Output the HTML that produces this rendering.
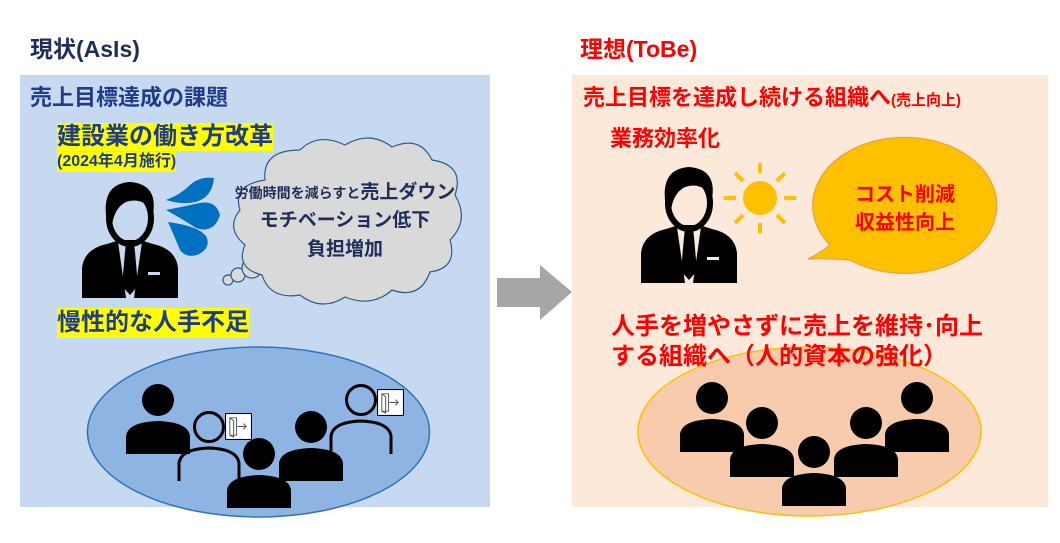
<!DOCTYPE html>
<html><head><meta charset="utf-8"><style>
body{margin:0;width:1060px;height:543px;background:#fff;overflow:hidden;position:relative;font-family:"Liberation Sans","Noto Sans CJK JP",sans-serif;font-weight:bold}
.t{position:absolute;white-space:nowrap;line-height:1}
.y{background:#ffff00}
</style></head><body>
<svg width="1060" height="543" style="position:absolute;left:0;top:0">
<defs>
<symbol id="man" viewBox="0 0 96 116">
<path d="M0,116 L0,86 Q2,67 25,62 L38,58 L58,58 L71,62 Q94,67 96,86 L96,116 Z" fill="#000"/>
<path d="M36,60 L60,60 L52,116 L44,116 Z" fill="currentColor"/>
<path d="M44,62 L52,62 L53,70 L56,104 L48,113 L40,104 L43,70 Z" fill="#000"/>
<rect x="66" y="90" width="12" height="3" fill="currentColor"/>
<ellipse cx="48" cy="36" rx="21" ry="26" fill="currentColor" stroke="#000" stroke-width="6"/>
<path d="M25,40 Q18,2 48,0 Q76,2 71,32 Q62,14 44,20 Q32,26 30,44 Z" fill="#000"/>
<path d="M40,58 L56,58 L54,64 L42,64Z" fill="#000"/>
</symbol>
<symbol id="ps" viewBox="0 0 66 70">
<circle cx="33" cy="16" r="16" fill="#000"/>
<path d="M1,70 L1,52 Q3,38 33,37 Q63,38 65,52 L65,70 Z" fill="#000"/>
</symbol>
<symbol id="po" viewBox="0 0 66 70">
<circle cx="33" cy="16" r="14.5" fill="none" stroke="#000" stroke-width="3"/>
<path d="M3,70 L3,52 Q5,38 33,37 Q61,38 63,52 L63,70" fill="none" stroke="#000" stroke-width="3"/>
</symbol>
<symbol id="door" viewBox="0 0 28 28">
<rect x="0.5" y="0.5" width="27" height="27" fill="#fff" stroke="#000" stroke-width="1.2"/>
<path d="M5,5 L12,5 L12,23 L5,23 Z M5,5 L9,8 L9,25 L5,23" fill="none" stroke="#555" stroke-width="1"/>
<path d="M13,14 L22,14 M19,11 L22,14 L19,17" fill="none" stroke="#555" stroke-width="1"/>
</symbol>
</defs>
<rect x="20" y="75" width="470" height="432" fill="#c6d9f1"/>
<rect x="572" y="75" width="476" height="432" fill="#fde9da"/>
<path d="M497,278 L540,278 L540,265 L572,292 L540,320 L540,307 L497,307 Z" fill="#a6a6a6"/>
<use href="#man" x="82" y="182" width="96" height="116" style="color:#c6d9f1"/>
<g fill="#0070c0">
<path d="M214,178 Q200,176 190,185 Q180,195 166,200 Q182,205 195,202 Q212,198 214,178Z"/>
<path d="M220,215 Q216,200 200,203 Q186,206 166,210 Q184,220 196,228 Q214,234 220,215Z"/>
<path d="M197,255 Q212,248 206,236 Q198,226 168,222 Q176,240 180,250 Q186,258 197,255Z"/>
</g>
<g fill="#d9d9d9" stroke="#2e5c8a" stroke-width="1.2">
<circle cx="228" cy="280" r="5"/>
<circle cx="238" cy="275" r="7"/>
<circle cx="252" cy="268" r="10"/>
<path d="M265,180 Q262,150 300,150 Q318,132 345,145 Q370,130 392,147 Q420,135 432,160 Q465,165 455,195 Q470,220 450,240 Q458,268 430,272 Q420,300 392,290 Q372,308 345,297 Q322,312 300,295 Q270,300 262,275 Q235,268 245,245 Q225,228 240,210 Q232,185 265,180Z"/>
</g>
<ellipse cx="258.5" cy="432" rx="171" ry="85" fill="#8eb4e3" stroke="#2e75b6" stroke-width="1.5"/>
<use href="#ps" x="125" y="384" width="66" height="70"/>
<use href="#po" x="176" y="411" width="66" height="70"/>
<use href="#door" x="225" y="413" width="27" height="27"/>
<use href="#ps" x="278" y="411" width="66" height="70"/>
<use href="#po" x="328" y="384" width="66" height="70"/>
<use href="#door" x="377" y="389" width="27" height="27"/>
<use href="#ps" x="226" y="438" width="66" height="70"/>
<use href="#man" x="641" y="167" width="96" height="116" style="color:#fde9da"/>
<g stroke="#ffc000" stroke-width="4">
<line x1="760" y1="163" x2="760" y2="173"/><line x1="760" y1="223" x2="760" y2="233"/>
<line x1="724" y1="198" x2="736" y2="198"/><line x1="784" y1="198" x2="796" y2="198"/>
<line x1="735" y1="173" x2="743" y2="181"/><line x1="777" y1="215" x2="785" y2="223"/>
<line x1="785" y1="173" x2="777" y2="181"/><line x1="743" y1="215" x2="735" y2="223"/>
</g>
<circle cx="760" cy="198" r="17" fill="#ffc000"/>
<path d="M830,245 A92,68 0 1 1 850,260 Q828,258 808,259 Q822,252 830,245Z" fill="#ffc000" stroke="#e6a23c" stroke-width="1.2"/>
<ellipse cx="809.5" cy="431.5" rx="171.5" ry="84.5" fill="#f8cbad" stroke="#ffc000" stroke-width="1.5"/>
<use href="#ps" x="679" y="382" width="66" height="70"/>
<use href="#ps" x="729" y="407" width="66" height="70"/>
<use href="#ps" x="833" y="407" width="66" height="70"/>
<use href="#ps" x="884" y="382" width="66" height="70"/>
<use href="#ps" x="781" y="436" width="66" height="70"/>
</svg>

<div class="t" style="left:30px;top:38px;font-size:23px;color:#1f2d5a">現状(AsIs)</div>
<div class="t" style="left:30px;top:87px;font-size:22px;color:#1f3c88">売上目標達成の課題</div>
<div class="t y" style="left:57px;top:123px;font-size:24px;color:#1f3c88;padding:2px 0">建設業の働き方改革</div>
<div class="t y" style="left:57px;top:152px;font-size:16px;color:#1f3c88;padding:2px 0">(2024年4月施行)</div>
<div class="t" style="left:220px;top:183px;width:250px;text-align:center;font-size:14px;color:#1f2d5a">労働時間を減らすと<span style="font-size:19px">売上ダウン</span></div>
<div class="t" style="left:220px;top:211px;width:250px;text-align:center;font-size:19px;color:#1f2d5a">モチベーション低下</div>
<div class="t" style="left:220px;top:240px;width:250px;text-align:center;font-size:19px;color:#1f2d5a">負担増加</div>
<div class="t y" style="left:57px;top:308px;font-size:24px;color:#1f3c88;padding:3px 0">慢性的な人手不足</div>

<div class="t" style="left:580px;top:38px;font-size:23px;color:#ff0000">理想(ToBe)</div>
<div class="t" style="left:583px;top:87px;font-size:22px;color:#ff0000">売上目標を達成し続ける組織へ<span style="font-size:15px">(売上向上)</span></div>
<div class="t" style="left:610px;top:128px;font-size:22px;color:#ff0000">業務効率化</div>
<div class="t" style="left:835px;top:185px;width:140px;text-align:center;font-size:20px;color:#ff0000">コスト削減</div>
<div class="t" style="left:835px;top:213px;width:140px;text-align:center;font-size:20px;color:#ff0000">収益性向上</div>
<div class="t" style="left:611px;top:315px;font-size:24px;color:#ff0000">人手を増やさずに売上を維持･向上</div>
<div class="t" style="left:611px;top:345px;font-size:24px;color:#ff0000">する組織へ（人的資本の強化）</div>
</body></html>
